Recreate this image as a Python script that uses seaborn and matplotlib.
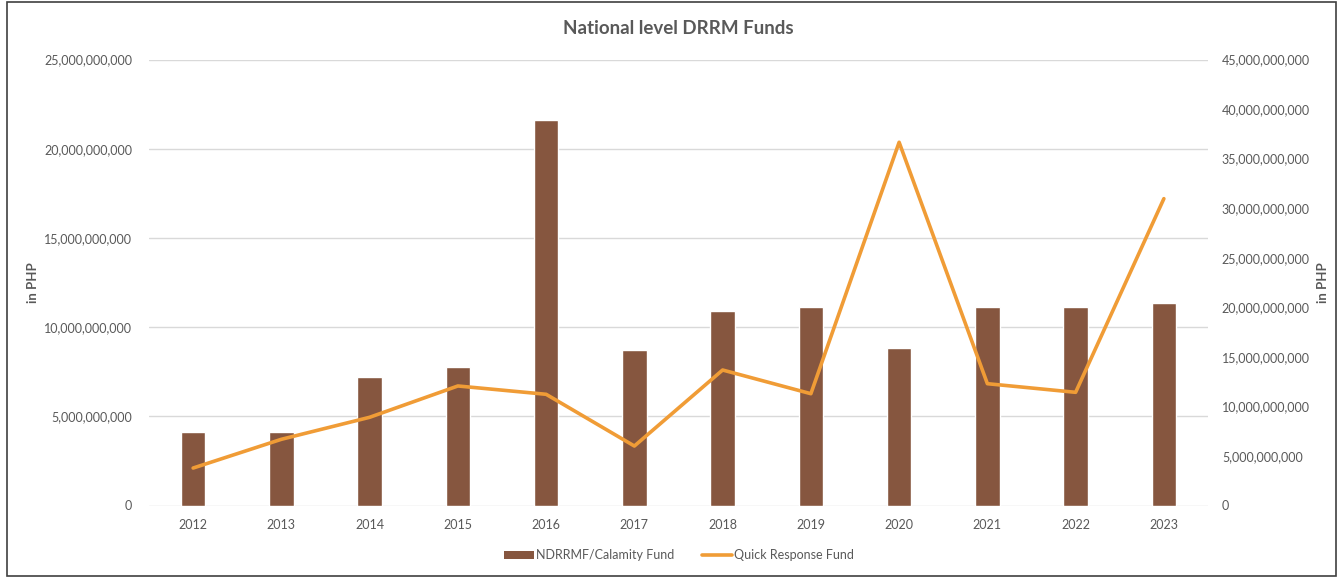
import matplotlib
matplotlib.use("Agg")
import matplotlib.pyplot as plt
import matplotlib.ticker as mticker
from matplotlib.patches import Patch, Rectangle
from matplotlib.lines import Line2D
import seaborn as sns
import pandas as pd

# Annual national-level DRRM appropriations (PHP)
years = ["2012", "2013", "2014", "2015", "2016", "2017",
         "2018", "2019", "2020", "2021", "2022", "2023"]
calamity_fund = [4.10e9, 4.10e9, 7.20e9, 7.75e9, 21.59e9, 8.72e9,
                 10.90e9, 11.11e9, 8.85e9, 11.11e9, 11.11e9, 11.33e9]
quick_response_fund = [3.78e9, 6.68e9, 8.90e9, 12.06e9, 11.22e9, 6.00e9,
                       13.67e9, 11.28e9, 36.65e9, 12.29e9, 11.42e9, 30.96e9]

bar_label = "NDRRMF/Calamity Fund"
line_label = "Quick Response Fund"
title = "National level DRRM Funds"
axis_label = "in PHP"

BAR_COLOR = "#86563F"
LINE_COLOR = "#F09C36"
TEXT_COLOR = "#595959"
GRID_COLOR = "#D9D9D9"

sns.set_theme(style="white")
plt.rcParams["font.family"] = ["Lato", "DejaVu Sans"]

df = pd.DataFrame({"year": years, "calamity": calamity_fund,
                   "qrf": quick_response_fund})

fig = plt.figure(figsize=(13.4, 5.77), dpi=100)
ax = fig.add_axes([149 / 1340, 1 - 505.5 / 577, (1208 - 149) / 1340, (505.5 - 59.5) / 577])

sns.barplot(data=df, x="year", y="calamity", color=BAR_COLOR, width=0.28,
            saturation=1, ax=ax, zorder=2)
ax.set_xlim(-0.5, len(years) - 0.5)
ax.set_ylim(0, 25e9)
ax.set_yticks([0, 5e9, 10e9, 15e9, 20e9, 25e9])

ax2 = ax.twinx()
sns.lineplot(data=df, x="year", y="qrf", color=LINE_COLOR, linewidth=2.6,
             ax=ax2, sort=False, zorder=3)
ax2.set_ylim(0, 45e9)
ax2.set_yticks([i * 5e9 for i in range(10)])
ax2.set_xlim(-0.5, len(years) - 0.5)

fmt = mticker.FuncFormatter(lambda v, p: f"{v:,.0f}")
for a in (ax, ax2):
    a.yaxis.set_major_formatter(fmt)
    a.tick_params(axis="both", length=0, labelsize=9, labelcolor=TEXT_COLOR)
    for s in a.spines.values():
        s.set_visible(False)
ax.tick_params(axis="y", pad=12)
ax2.tick_params(axis="y", pad=10)
ax.tick_params(axis="x", pad=10)

ax.yaxis.grid(True, color=GRID_COLOR, linewidth=1)
ax.set_axisbelow(True)
ax2.grid(False)

ax.set_xlabel("")
ax.set_ylabel(axis_label, fontsize=9.5, fontweight="bold", color=TEXT_COLOR, labelpad=4)
ax2.set_ylabel(axis_label, fontsize=9.5, fontweight="bold", color=TEXT_COLOR, labelpad=5)

fig.text(678 / 1340, 1 - 28 / 577, title, ha="center", va="center",
         fontsize=13.5, fontweight="bold", color=TEXT_COLOR)

handles = [Patch(facecolor=BAR_COLOR, edgecolor="none"),
           Line2D([0], [0], color=LINE_COLOR, linewidth=2.6)]
fig.legend(handles, [bar_label, line_label], loc="center",
           bbox_to_anchor=(679 / 1340, 1 - 555 / 577), ncol=2, frameon=False,
           fontsize=9, labelcolor=TEXT_COLOR, handlelength=2.4,
           handletextpad=0.15, columnspacing=2.2, handleheight=0.6)

# Outer chart frame
fig.patches.append(Rectangle((7 / 1340, 1 / 577), 1329 / 1340, 574 / 577,
                             transform=fig.transFigure, fill=False,
                             edgecolor="#404040", linewidth=1.2))

fig.savefig("out.png", dpi=100)
